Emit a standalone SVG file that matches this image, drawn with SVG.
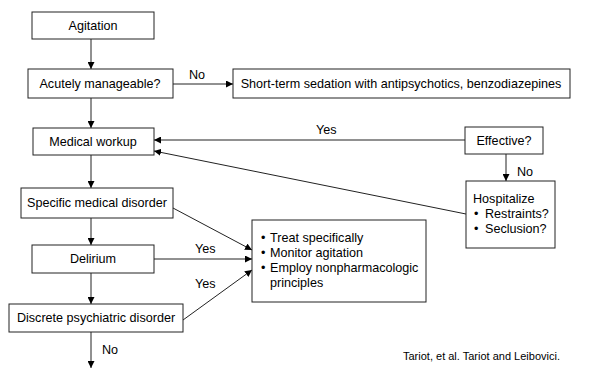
<svg xmlns="http://www.w3.org/2000/svg" width="600" height="376" viewBox="0 0 600 376">
<style>
.box{fill:#fff;stroke:#222;stroke-width:1}
.t{font-family:"Liberation Sans",Arial,sans-serif;font-size:12.6px;fill:#000}
.c{text-anchor:middle}
.ln{fill:none;stroke:#222;stroke-width:1}
.cite{font-family:"Liberation Sans",Arial,sans-serif;font-size:11px;fill:#000}
</style>
<defs>
<marker id="ah" viewBox="0 0 10 10" refX="10" refY="5" markerWidth="7" markerHeight="7" markerUnits="userSpaceOnUse" orient="auto">
<path d="M0,0 L10,5 L0,10 z" fill="#000"/>
</marker>
</defs>
<rect width="600" height="376" fill="#fff"/>
<g id="connectors">
<line class="ln" x1="91" y1="39" x2="91" y2="69" marker-end="url(#ah)"/>
<line class="ln" x1="173" y1="84" x2="233" y2="84" marker-end="url(#ah)"/>
<line class="ln" x1="91" y1="98" x2="91" y2="128" marker-end="url(#ah)"/>
<line class="ln" x1="91" y1="155" x2="91" y2="188" marker-end="url(#ah)"/>
<line class="ln" x1="465" y1="140" x2="154" y2="140" marker-end="url(#ah)"/>
<line class="ln" x1="506" y1="154" x2="506" y2="181" marker-end="url(#ah)"/>
<line class="ln" x1="466" y1="214" x2="154" y2="151" marker-end="url(#ah)"/>
<line class="ln" x1="91" y1="218" x2="91" y2="245" marker-end="url(#ah)"/>
<line class="ln" x1="91" y1="273" x2="91" y2="304" marker-end="url(#ah)"/>
<line class="ln" x1="91" y1="332" x2="91" y2="368" marker-end="url(#ah)"/>
<line class="ln" x1="173" y1="208" x2="252" y2="250" marker-end="url(#ah)"/>
<line class="ln" x1="154" y1="259" x2="252" y2="259" marker-end="url(#ah)"/>
<line class="ln" x1="183" y1="320" x2="252" y2="270" marker-end="url(#ah)"/>
<text class="t" x="189" y="79">No</text>
<text class="t" x="316" y="134">Yes</text>
<text class="t" x="517" y="176">No</text>
<text class="t" x="195" y="253">Yes</text>
<text class="t" x="195" y="288">Yes</text>
<text class="t" x="102" y="354">No</text>
</g>
<g id="agitation">
<rect class="box" x="32" y="12" width="122" height="27"/>
<text class="t c" x="93" y="30">Agitation</text>
</g>
<g id="acutely">
<rect class="box" x="28" y="69" width="145" height="29"/>
<text class="t c" x="100" y="88">Acutely manageable?</text>
</g>
<g id="sedation">
<rect class="box" x="233" y="69" width="337" height="29"/>
<text class="t c" x="401" y="88">Short-term sedation with antipsychotics, benzodiazepines</text>
</g>
<g id="workup">
<rect class="box" x="33" y="128" width="121" height="27"/>
<text class="t c" x="93" y="146">Medical workup</text>
</g>
<g id="effective">
<rect class="box" x="465" y="127" width="78" height="27"/>
<text class="t c" x="504" y="145">Effective?</text>
</g>
<g id="hospitalize">
<rect class="box" x="466" y="181" width="89" height="67"/>
<text class="t" x="473" y="203">Hospitalize</text>
<text class="t" x="474" y="218">•</text>
<text class="t" x="485" y="218">Restraints?</text>
<text class="t" x="474" y="233">•</text>
<text class="t" x="485" y="233">Seclusion?</text>
</g>
<g id="specific">
<rect class="box" x="21" y="188" width="152" height="30"/>
<text class="t c" x="97" y="207">Specific medical disorder</text>
</g>
<g id="delirium">
<rect class="box" x="32" y="245" width="122" height="28"/>
<text class="t c" x="93" y="263">Delirium</text>
</g>
<g id="discrete">
<rect class="box" x="9" y="304" width="174" height="28"/>
<text class="t c" x="96" y="322">Discrete psychiatric disorder</text>
</g>
<g id="treat">
<rect class="box" x="252" y="220" width="174" height="82"/>
<text class="t" x="261" y="242">•</text>
<text class="t" x="270" y="242">Treat specifically</text>
<text class="t" x="261" y="257">•</text>
<text class="t" x="270" y="257">Monitor agitation</text>
<text class="t" x="261" y="272">•</text>
<text class="t" x="270" y="272">Employ nonpharmacologic</text>
<text class="t" x="270" y="287">principles</text>
</g>
<text class="cite" x="403" y="360">Tariot, et al. Tariot and Leibovici.</text>
</svg>
